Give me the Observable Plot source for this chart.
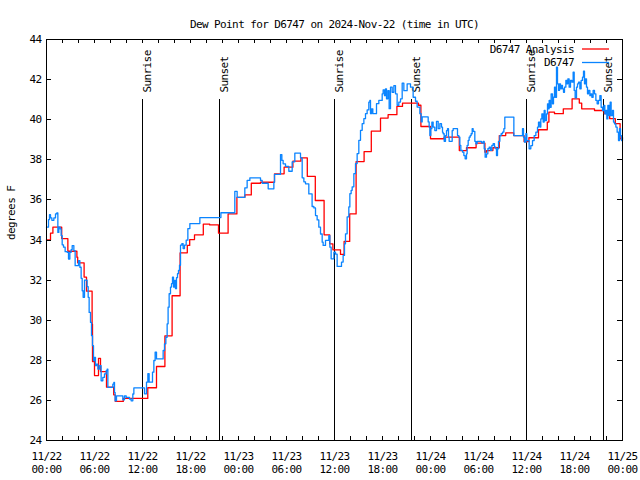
<!DOCTYPE html>
<html><head><meta charset="utf-8">
<script src="https://cdn.jsdelivr.net/npm/d3@7"></script>
<script src="https://cdn.jsdelivr.net/npm/@observablehq/plot@0.6"></script>
<style>body{margin:0;background:#fff} svg{display:block}</style>
</head><body><div id="chart"></div>
<script>
const titleText = "Dew Point for D6747 on 2024-Nov-22 (time in UTC)";
const yLabel = "degrees F";
const startTime = "2024-11-22T00:00:00Z";
const endTime = "2024-11-25T00:00:00Z";
const yTicks = [24, 26, 28, 30, 32, 34, 36, 38, 40, 42, 44];
const xLabelHours = [0, 6, 12, 18, 24, 30, 36, 42, 48, 54, 60, 66, 72];
const xTickHours = [0,2,4,6,8,10,12,14,16,18,20,22,24,26,28,30,32,34,36,38,40,42,44,46,48,50,52,54,56,58,60,62,64,66,68,70,72];
const seriesNames = ["D6747 Analysis", "D6747"];
const seriesColors = ["#ff0000", "#0a84ff"];
const sunLabels = ["Sunrise", "Sunset", "Sunrise", "Sunset", "Sunrise", "Sunset"];
const sunTimes = ["2024-11-22T12:02Z", "2024-11-22T21:40Z", "2024-11-23T12:02Z", "2024-11-23T21:40Z", "2024-11-24T12:02Z", "2024-11-24T21:40Z"];

// Analysis (hours since 2024-11-22 00:00 UTC, step values)
const anaHours = [0,0.5,0.8,1.9,2.67,3.8,3.9,4.7,5.0,5.7,5.75,6.0,6.5,6.75,7.5,8.4,8.6,9.6,12.66,13.75,14.8,15.7,16.7,17.6,17.9,18.5,19.6,20.4,21.5,22.7,23.8,24.8,25.6,26.75,28.5,29.7,30.8,31.8,32.6,33.6,34.7,35.4,35.8,36.75,37.2,37.9,38.7,39.7,40.6,41.75,42.7,43.8,44.5,46.5,46.8,48.0,49.7,51.6,52.5,53.7,54.8,55.0,55.8,56.6,57.4,58.4,59.7,60.3,61.5,62.6,62.8,63.5,64.6,65.7,66.6,66.9,68.5,69.7,70.4,71.1,71.7,72];
const anaValues = [34.0,34.34,34.64,34.07,33.44,33.14,32.86,32.15,31.45,29.8,27.94,27.24,28.1,27.44,26.66,26.28,25.95,26.1,26.63,27.69,29.22,31.22,33.36,33.73,34.02,34.26,34.79,34.75,34.34,35.3,36.13,36.25,36.83,36.88,37.3,37.63,37.93,38.1,37.17,35.97,34.26,33.81,33.51,33.28,33.93,35.3,37.91,38.41,39.43,40.08,40.25,40.66,40.83,40.72,39.66,39.05,39.13,38.46,38.6,38.83,38.38,38.46,38.6,39.21,39.34,39.21,38.91,39.1,39.5,39.88,40.38,40.3,40.54,41.04,40.83,40.54,40.46,40.3,40.05,39.8,39.05,39.05];

// Observations
const obsHours = [0,0.25,0.375,0.5,0.67,0.92,1.125,1.29,1.42,1.54,1.71,1.83,1.96,2.125,2.33,2.58,2.75,2.92,3.08,3.21,3.42,3.58,3.83,4.0,4.17,4.33,4.46,4.58,4.75,4.92,5.08,5.21,5.33,5.5,5.625,5.75,5.875,6.0,6.125,6.25,6.42,6.625,6.83,7.04,7.25,7.46,7.58,7.67,8.08,8.29,8.42,8.5,8.58,8.75,9.54,9.75,9.96,10.375,10.58,10.79,10.92,12.25,12.5,12.67,12.83,13.25,13.42,13.58,13.75,14.58,14.75,14.92,15.08,15.2,15.33,15.5,15.625,15.75,15.875,16.0,16.125,16.25,16.375,16.5,16.625,16.75,16.92,17.08,17.25,17.46,17.67,17.92,19.17,21.8,23.54,23.83,24.79,25.08,25.42,26.75,26.96,27.71,28.42,28.5,29.25,29.42,29.58,29.875,30.29,30.71,31.04,31.75,31.96,32.17,32.375,32.79,33.2,33.42,33.625,33.83,34.04,34.25,34.46,34.58,34.875,35.29,35.42,35.58,35.92,36.125,36.33,36.875,37.08,37.25,37.375,37.58,37.79,37.92,38.08,38.21,38.42,38.625,38.83,39.04,39.25,39.46,39.67,39.875,40.08,40.29,40.42,40.5,40.625,40.79,41.25,41.54,41.96,42.08,42.25,42.375,42.5,42.67,42.83,43.0,43.21,43.42,43.625,43.83,44.04,44.25,44.46,44.67,45.08,45.5,45.83,46.125,46.33,46.67,46.83,46.96,47.71,47.83,47.92,48.04,48.17,48.33,48.54,48.75,48.96,49.17,49.375,49.5,49.58,49.71,49.875,50.0,50.125,50.25,50.33,50.71,50.83,51.375,51.54,51.67,51.79,52.0,52.17,52.33,52.5,52.58,52.71,52.83,52.96,53.08,53.21,53.33,53.54,53.67,53.83,54.375,54.58,54.71,54.83,55.0,55.17,55.33,55.5,55.67,55.83,56.0,56.17,56.25,56.375,56.5,56.67,56.83,57.0,57.17,57.29,58.42,59.5,59.625,59.75,59.92,60.04,60.33,60.54,60.75,60.96,61.17,61.375,61.5,61.67,61.79,61.92,62.08,62.21,62.33,62.5,62.625,62.75,62.83,62.96,63.08,63.25,63.375,63.5,63.625,63.75,63.875,64.0,64.125,64.25,64.375,64.5,64.625,64.75,64.92,65.04,65.17,65.33,65.5,65.67,65.83,65.96,66.08,66.25,66.375,66.5,66.67,66.83,67.0,67.125,67.25,67.375,67.5,67.625,67.75,67.92,68.04,68.17,68.33,68.5,68.67,68.83,69.0,69.17,69.33,69.5,69.67,69.79,69.92,70.04,70.17,70.33,70.46,70.58,70.75,70.875,71.0,71.17,71.33,71.5,71.625,71.75,71.875,72.0];
const obsValues = [34.64,35.02,35.26,35.1,34.98,35.1,35.3,35.35,34.38,34.64,34.55,34.22,33.76,33.64,33.42,33.39,33.05,33.39,33.52,33.72,33.47,32.72,32.72,32.97,32.64,32.09,31.47,31.14,32.0,32.0,31.67,31.14,30.39,29.89,29.23,28.73,27.98,28.15,27.73,27.81,27.56,27.73,26.98,27.15,27.32,27.48,27.56,26.65,26.65,26.81,26.9,26.4,25.98,26.23,26.03,26.23,26.15,26.07,25.98,26.32,26.62,26.33,26.91,27.33,26.91,27.41,27.99,28.41,28.07,28.49,28.82,29.15,29.82,30.65,31.32,31.65,31.82,32.15,31.65,31.99,31.57,32.12,32.32,32.49,32.74,33.74,33.82,33.57,33.74,33.99,34.57,34.82,35.12,35.36,36.43,36.13,36.6,36.97,37.1,36.97,36.83,36.55,36.88,37.27,38.26,37.97,37.8,37.67,37.43,37.9,38.33,38.1,37.1,36.9,36.8,36.3,35.67,35.6,35.22,35.0,34.64,34.3,33.89,33.73,33.98,34.22,33.64,33.06,33.39,33.3,32.68,32.9,33.23,33.81,34.31,35.15,35.65,36.31,36.48,36.65,37.31,37.81,38.31,38.97,39.47,39.8,40.05,40.3,40.49,40.88,40.96,40.3,40.54,40.3,40.8,40.96,41.29,41.49,41.2,41.54,41.04,41.45,40.55,41.62,41.37,41.7,41.29,40.72,40.88,41.04,41.82,41.45,41.79,41.62,41.12,40.92,40.63,40.3,39.89,40.14,39.89,39.63,39.21,39.55,39.88,39.63,39.46,39.92,39.55,39.8,39.63,39.38,39.3,38.92,39.21,39.46,39.55,39.13,38.92,39.46,39.55,39.21,39.13,38.72,38.47,38.38,38.21,38.05,38.3,38.72,38.97,39.13,39.21,39.3,39.55,39.42,38.92,38.8,38.92,38.84,38.92,38.55,38.13,38.3,38.55,38.63,38.47,38.72,38.8,38.63,38.55,38.21,38.55,38.92,39.21,39.3,39.38,39.55,40.13,39.21,39.55,39.13,38.88,39.3,38.96,38.55,38.71,38.96,39.21,39.38,39.63,39.88,39.63,40.04,40.29,39.88,40.46,39.96,40.29,40.79,40.54,40.96,40.62,41.29,40.79,41.12,41.62,41.12,42.62,41.79,41.46,41.79,41.54,41.71,41.54,41.37,41.62,41.96,41.79,42.04,41.62,41.96,41.87,42.37,41.46,41.09,41.62,41.79,41.87,41.54,41.96,42.12,42.42,41.79,42.04,41.62,41.29,41.46,41.2,41.29,41.12,41.46,41.29,40.96,40.79,40.96,41.2,40.62,40.46,40.71,40.29,40.46,40.04,40.71,40.21,40.88,40.21,40.46,39.88,39.79,39.63,39.38,38.96,39.55,39.21,38.96,39.13];

const t0 = new Date(startTime);
const toDate = h => new Date(+t0 + h * 3600e3);
const analysis = anaHours.map((h, i) => ({time: toDate(h), value: anaValues[i]}));
const observed = obsHours.map((h, i) => ({time: toDate(h), value: obsValues[i]}));
const sunData = sunTimes.map((t, i) => ({time: new Date(t), label: sunLabels[i]}));
const xTicks = xTickHours.map(toDate);
const xLabels = xLabelHours.map(toDate);

const W = 640, H = 480, mL = 46, mR = 18, mT = 39, mB = 40;
const frameW = W - mL - mR, frameH = H - mT - mB;
const fmt = d3.utcFormat("%m/%d\n%H:%M");

const svgEl = Plot.plot({
  width: W, height: H,
  marginLeft: mL, marginRight: mR, marginTop: mT, marginBottom: mB,
  style: {fontFamily: "DejaVu Sans Mono", fontSize: "11px", letterSpacing: "-0.6px", background: "#fff", color: "#000"},
  x: {type: "utc", domain: [new Date(startTime), new Date(endTime)]},
  y: {domain: [yTicks[0], yTicks[yTicks.length - 1]]},
  marks: [
    Plot.ruleX(sunData, {x: "time", insetTop: Math.round(frameH * 0.15), stroke: "#000", strokeWidth: 1, shapeRendering: "crispEdges"}),
    Plot.text(sunData, {x: "time", text: "label", frameAnchor: "top", dy: 53, rotate: -90, textAnchor: "start", fill: "#000"}),
    Plot.line(analysis, {x: "time", y: "value", curve: "step-after", stroke: seriesColors[0], strokeWidth: 1.3}),
    Plot.line(observed, {x: "time", y: "value", curve: "step-after", stroke: seriesColors[1], strokeWidth: 1.3}),
    Plot.ruleX(xTicks, {insetTop: frameH - 4, stroke: "#000", shapeRendering: "crispEdges"}),
    Plot.ruleX(xTicks, {insetBottom: frameH - 4, stroke: "#000", shapeRendering: "crispEdges"}),
    Plot.ruleY(yTicks, {insetRight: frameW - 5, stroke: "#000", shapeRendering: "crispEdges"}),
    Plot.ruleY(yTicks, {insetLeft: frameW - 5, stroke: "#000", shapeRendering: "crispEdges"}),
    Plot.frame({stroke: "#000", strokeWidth: 1, shapeRendering: "crispEdges"}),
    Plot.axisY({ticks: yTicks, tickSize: 0, tickPadding: 5, label: null, fill: "#000"}),
    Plot.axisX({ticks: xLabels, tickSize: 0, tickPadding: 10, tickFormat: fmt, label: null, lineHeight: 1.18, fill: "#000"}),
    Plot.text([titleText], {text: d => d, frameAnchor: "top", dy: -19, fill: "#000"}),
    Plot.text([yLabel], {text: d => d, frameAnchor: "left", dx: -35, rotate: -90, fill: "#000"})
  ]
});
document.getElementById("chart").appendChild(svgEl);

// key (legend), top right inside the frame
const svg = d3.select(svgEl);
const key = svg.append("g");
seriesNames.forEach((name, i) => {
  const y = mT + 10 + i * 13.5;
  key.append("text").attr("x", W - mR - 48).attr("y", y).attr("dy", "0.32em")
    .attr("text-anchor", "end").attr("fill", "#000").text(name);
  key.append("line").attr("x1", W - mR - 40).attr("x2", W - mR - 13)
    .attr("y1", y).attr("y2", y).attr("stroke", seriesColors[i]).attr("stroke-width", 1.3);
});
</script></body></html>
